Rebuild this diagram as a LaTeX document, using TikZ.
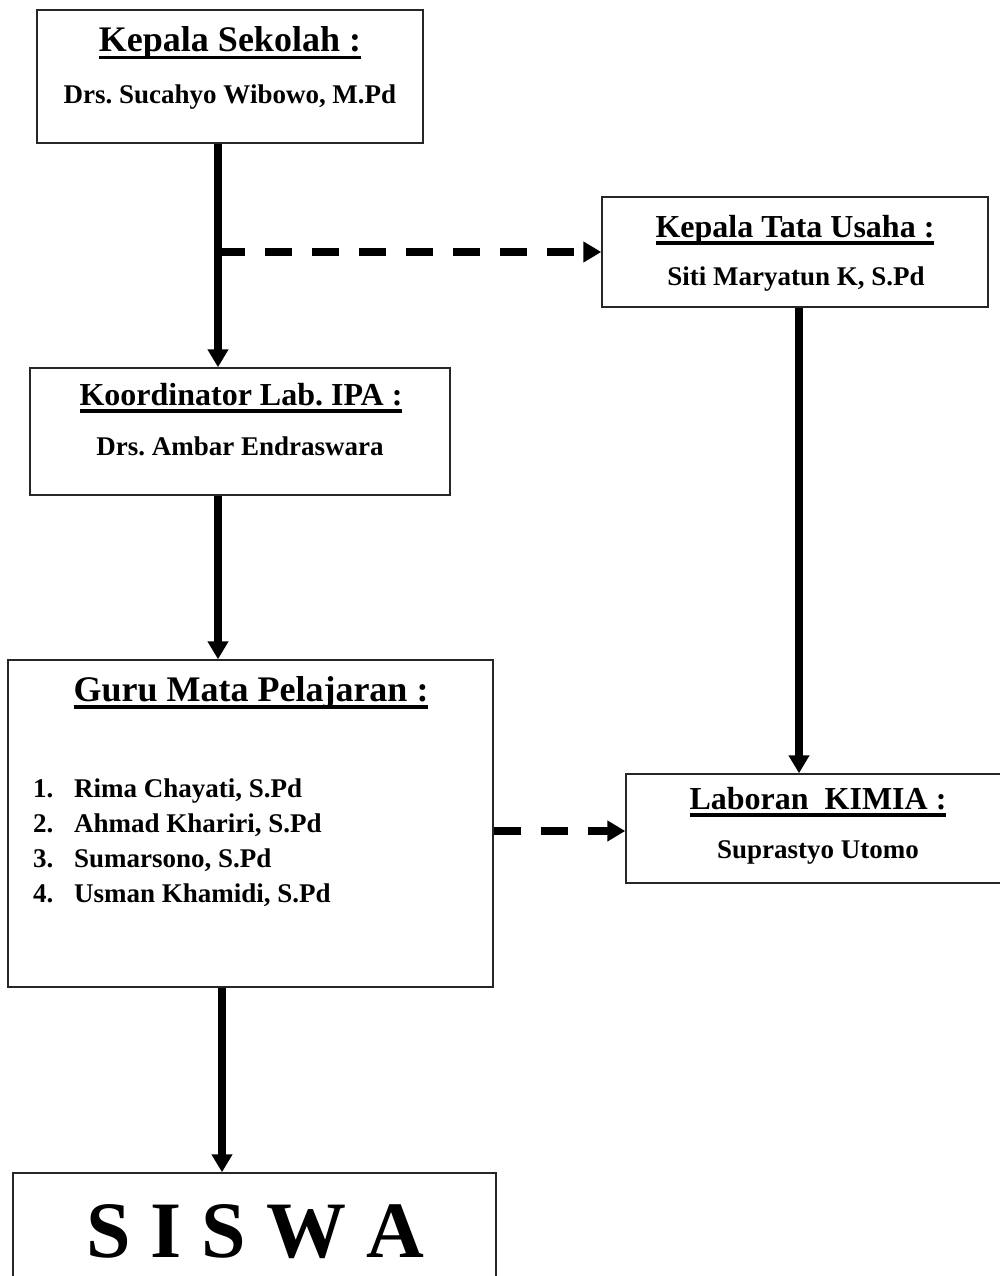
\documentclass[tikz,border=0pt]{standalone}
\usepackage{fontspec}
\setmainfont{Liberation Serif}
\usetikzlibrary{arrows.meta}
\frenchspacing
% underline drawn as a solid rule under the heading text
\newcommand\ulined[1]{\setbox0=\hbox{#1}\rlap{\rule[-7.5pt]{\wd0}{3.6pt}}\box0}
\begin{document}
\begin{tikzpicture}[x=1pt,y=-1pt,
  box/.style={draw=black!85,line width=1.5pt,inner sep=0pt},
  ttl/.style={font=\bfseries\fontsize{32}{38}\selectfont,inner sep=0pt,anchor=base},
  bigttl/.style={font=\bfseries\fontsize{36}{42}\selectfont,inner sep=0pt,anchor=base},
  nm/.style={font=\bfseries\fontsize{27}{32}\selectfont,inner sep=0pt,anchor=base},
  item/.style={font=\bfseries\fontsize{27}{32}\selectfont,inner sep=0pt,anchor=base west},
  conn/.style={line width=7.5pt,-{Triangle[width=20pt,length=18pt]}},
  dconn/.style={conn,dash pattern=on 27pt off 20pt}]
\path[use as bounding box,fill=white] (0,0) rectangle (1000,1276);
\clip (0,0) rectangle (1000,1276);

% boxes
\node[box,minimum width=386pt,minimum height=133pt] (ks) at (230,76.5) {};
\node[box,minimum width=386pt,minimum height=110pt] (ktu) at (795,252) {};
\node[box,minimum width=420pt,minimum height=127pt] (kor) at (240,431.5) {};
\node[box,minimum width=485pt,minimum height=327pt] (guru) at (250.5,823.5) {};
\node[box,minimum width=384pt,minimum height=109pt] (lab) at (818,828.5) {};
\node[box,minimum width=483pt,minimum height=127pt] (siswa) at (254.5,1236.5) {};

% texts
\node[bigttl] (kst) at (230,52) {\ulined{Kepala Sekolah :}};
\node[nm] (ksn) at (230,104) {Drs. Sucahyo Wibowo, M.Pd};
\node[ttl] (ktut) at (795,237) {\ulined{Kepala Tata Usaha :}};
\node[nm] (ktun) at (796,285) {Siti Maryatun K, S.Pd};
\node[ttl] (kort) at (241,405) {\ulined{Koordinator Lab. IPA :}};
\node[nm] (korn) at (240,455) {Drs. Ambar Endraswara};
\node[bigttl] (gurut) at (251,701) {\ulined{Guru Mata Pelajaran :}};
\node[item] (g1n) at (33,797) {1.};
\node[item] (g1) at (74,797) {Rima Chayati, S.Pd};
\node[item] (g2n) at (33,832) {2.};
\node[item] (g2) at (74,832) {Ahmad Khariri, S.Pd};
\node[item] (g3n) at (33,867) {3.};
\node[item] (g3) at (74,867) {Sumarsono, S.Pd};
\node[item] (g4n) at (33,902) {4.};
\node[item] (g4) at (74,902) {Usman Khamidi, S.Pd};
\node[ttl] (labt) at (818,809) {\ulined{Laboran\ \ KIMIA :}};
\node[nm] (labn) at (818,858) {Suprastyo Utomo};
\node[font=\bfseries\fontsize{80}{90}\selectfont,inner sep=0pt,anchor=base] (siswat) at (255,1257) {S I S W A};

% connector lanes
\coordinate (xa) at (218,0);
\coordinate (xb) at (799,0);
\coordinate (xc) at (222,0);
\coordinate (br) at (218,252);
\coordinate (ya) at (0,831);

% connectors
\draw[line width=7.5pt] (ks.south -| xa) -- (br);
\draw[conn] (br) -- (kor.north -| xa);
\draw[dconn] (br) -- (ktu.west);
\draw[conn] (ktu.south -| xb) -- (lab.north -| xb);
\draw[conn] (kor.south -| xa) -- (guru.north -| xa);
\draw[dconn] (guru.east |- ya) -- (lab.west |- ya);
\draw[conn] (guru.south -| xc) -- (siswa.north -| xc);
\end{tikzpicture}
\end{document}
